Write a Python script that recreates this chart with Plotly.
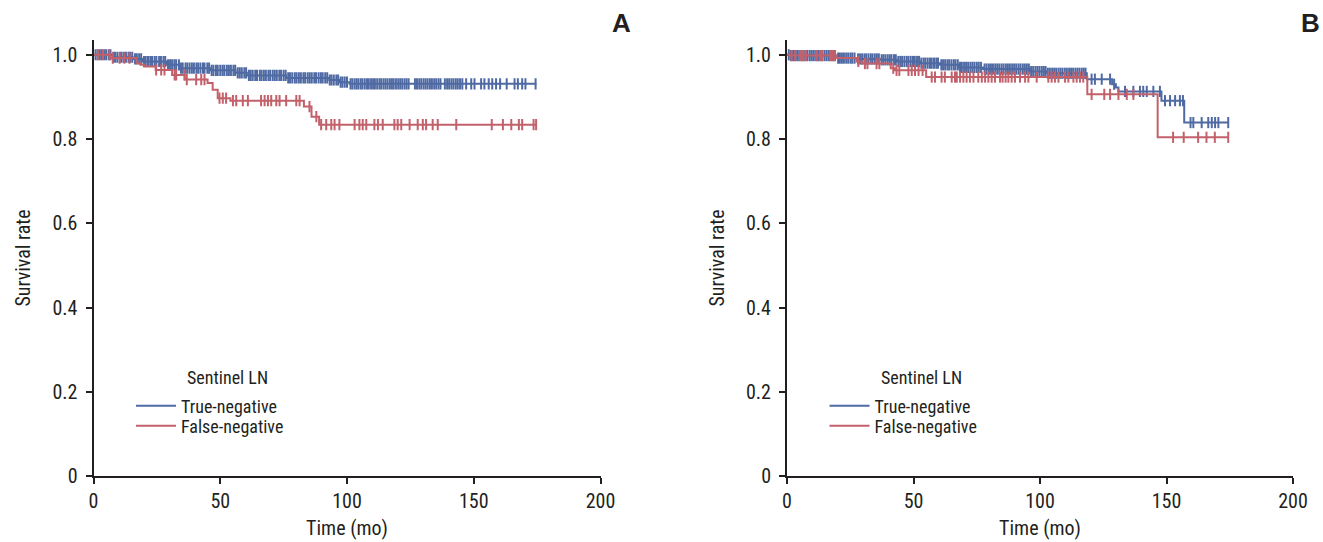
import numpy as np
import plotly.graph_objects as go

# ---------------- data ----------------
# Panel A: Kaplan-Meier steps (event time, survival after event)
a_tn_time = [0, 7.5, 15.5, 19.3, 29, 34, 46, 56, 60.5, 76, 93, 97, 101]
a_tn_surv = [1.0, 0.994, 0.99, 0.984, 0.976, 0.968, 0.963, 0.957, 0.951, 0.945, 0.94, 0.935, 0.931]
a_tn_end = 174.7
a_tn_cens = [0.8, 1.6, 2.5, 3.3, 4.3, 5.0, 6.0, 6.7, 7.8, 8.5, 9.4, 10.4, 11.1, 12.0, 12.8, 13.8, 14.5, 15.3,
             16.4, 17.1, 18.0, 18.8, 19.9, 20.6, 21.5, 22.4, 23.1, 24.1, 24.8, 25.9, 26.6, 27.6, 28.3, 29.4,
             30.2, 31.0, 31.9, 32.6, 33.7, 34.5, 35.2, 36.3, 37.0, 37.9, 38.8, 39.6, 40.6, 41.3, 42.2, 43.2,
             43.8, 44.9, 45.6, 46.6, 47.3, 48.3, 49.0, 50.0, 50.9, 51.6, 52.6, 53.4, 54.2, 55.2, 55.9, 56.9,
             57.7, 58.5, 59.5, 60.2, 61.3, 62.0, 62.8, 63.8, 64.5, 65.6, 66.3, 67.2, 68.0, 69.0, 69.7, 70.7,
             71.5, 72.3, 73.3, 74.0, 75.0, 75.8, 76.8, 77.5, 78.4, 79.4, 80.1, 81.0, 81.8, 82.8, 83.5, 84.5,
             85.3, 86.1, 87.1, 87.8, 88.8, 89.7, 90.4, 91.4, 92.2, 93.2, 93.9, 94.8, 95.8, 96.5, 97.5, 98.2,
             99.1, 100.0, 101.4, 102.1, 103.0, 103.8, 104.5, 105.4, 106.1, 107.0, 107.9, 108.6, 109.5,
             110.3, 111.0, 111.9, 112.8, 113.5, 114.4, 115.2, 116.0, 116.9, 117.7, 118.4, 119.3, 120.2,
             121.0, 121.8, 122.7, 123.5, 124.3, 126.8, 127.6, 128.5, 129.3, 130.2, 131.0, 131.8, 132.7,
             133.5, 134.4, 135.2, 136.1, 136.9, 138.6, 139.5, 140.3, 141.2, 142.0, 142.9, 143.7, 144.6,
             145.5, 147.0, 149.0, 150.3, 152.9, 154.2, 155.9, 157.3, 158.8, 160.4, 163.0, 166.1, 167.4,
             169.1, 170.4, 174.4]

a_fn_time = [0, 6.5, 17, 18.5, 20, 24.5, 31, 36, 45, 47, 49, 54, 83, 86, 89]
a_fn_surv = [1.0, 0.992, 0.98, 0.976, 0.972, 0.964, 0.952, 0.941, 0.933, 0.917, 0.897, 0.891, 0.877, 0.853, 0.834]
a_fn_end = 174.8
a_fn_cens = [1.7, 3.7, 6.3, 7.6, 10.3, 12.2, 14.2, 24.7, 26.7, 28.0, 32.0, 32.6, 35.9, 36.8, 40.5, 42.5,
             43.8, 49.7, 51.0, 52.3, 55.0, 56.3, 58.9, 60.9, 66.1, 67.5, 68.8, 70.1, 72.1, 73.4, 76.0,
             80.0, 81.3, 85.2, 87.9, 89.8, 91.8, 93.8, 95.1, 97.0, 103.0, 104.9, 106.2, 107.6, 110.8,
             112.2, 114.1, 118.7, 120.0, 121.4, 124.7, 127.9, 129.9, 131.2, 133.8, 135.8, 143.1, 157.1,
             161.5, 164.8, 167.8, 169.1, 173.6, 174.6]

# Panel B
b_tn_time = [0, 1, 19.6, 27.5, 36.8, 43.4, 52.6, 60.5, 68, 77.5, 96, 102.5, 118.5, 128.5, 130, 131, 148, 157]
b_tn_surv = [1.0, 0.998, 0.992, 0.99, 0.988, 0.984, 0.98, 0.976, 0.97, 0.966, 0.96, 0.956, 0.942, 0.93,
             0.922, 0.913, 0.891, 0.839]
b_tn_end = 174.5
b_tn_cens = [0.7, 1.5, 2.4, 3.1, 4.0, 4.8, 5.7, 6.5, 7.2, 8.1, 9.0, 9.8, 10.6, 11.5, 12.3, 13.0, 13.9, 14.8,
             15.6, 16.4, 17.3, 18.1, 18.8, 20.2, 20.9, 21.7, 22.5, 23.4, 24.2, 25.1, 25.8, 26.7, 28.1,
             28.9, 29.7, 30.6, 31.3, 32.2, 33.1, 33.8, 34.7, 35.5, 36.3, 37.4, 38.1, 38.9, 39.8, 40.6,
             41.3, 42.3, 43.0, 44.0, 44.8, 45.5, 46.4, 47.3, 48.0, 48.9, 49.8, 50.5, 51.4, 52.2, 53.1,
             54.0, 54.7, 55.6, 56.5, 57.2, 58.1, 59.0, 59.7, 61.0, 61.7, 62.5, 63.4, 64.1, 65.0, 65.9,
             66.6, 67.5, 68.4, 69.1, 70.0, 70.8, 71.6, 72.5, 73.3, 74.1, 75.0, 75.8, 76.7, 78.1, 78.9,
             79.8, 80.6, 81.4, 82.3, 83.1, 83.9, 84.8, 85.6, 86.5, 87.3, 88.1, 89.0, 89.8, 90.6, 91.5,
             92.3, 93.2, 94.0, 94.8, 95.6, 96.5, 97.3, 98.2, 99.0, 99.8, 100.7, 101.5, 102.2, 103.1,
             103.9, 104.8, 105.6, 106.4, 107.3, 108.1, 108.9, 109.8, 110.6, 111.5, 112.3, 113.1, 114.0,
             114.8, 115.6, 116.5, 117.3, 118.0, 120.4, 121.7, 124.4, 127.7, 129.3, 133.6, 136.9, 139.5,
             140.8, 142.2, 144.8, 147.4, 149.4, 151.4, 153.4, 155.3, 156.5, 159.5, 160.6, 163.9, 166.5,
             167.9, 169.2, 170.5, 174.4]

b_fn_time = [0, 1, 19.6, 27.5, 29.5, 41, 42.7, 55, 118.7, 146.5]
b_fn_surv = [1.0, 0.998, 0.992, 0.984, 0.979, 0.968, 0.963, 0.947, 0.906, 0.804]
b_fn_end = 174.5
b_fn_cens = [1.8, 3.2, 5.1, 5.8, 6.5, 7.5, 11.7, 13.0, 13.9, 17.0, 17.9, 19.0, 28.2, 30.8, 31.8, 35.4,
             36.5, 42.0, 43.3, 44.4, 48.0, 49.3, 50.6, 52.0, 53.6, 57.2, 58.5, 61.1, 62.4, 65.1, 66.4,
             67.1, 68.4, 69.7, 71.0, 72.3, 73.7, 75.6, 77.0, 78.3, 79.6, 80.9, 82.2, 84.2, 85.2, 86.4,
             87.5, 88.8, 90.1, 92.1, 94.1, 95.4, 98.7, 103.3, 104.6, 105.9, 107.3, 109.9, 111.2, 113.2,
             114.5, 115.8, 117.1, 120.4, 125.4, 127.7, 131.0, 134.3, 136.9, 152.6, 156.8, 162.5, 165.8,
             169.1, 174.4]

legend_title = "Sentinel LN"
group_names = ["True-negative", "False-negative"]
panel_letters = ["A", "B"]
x_ticks = [0, 50, 100, 150, 200]
y_ticks = [0, 0.2, 0.4, 0.6, 0.8, 1.0]
y_ticktext = ["0", "0.2", "0.4", "0.6", "0.8", "1.0"]

# ---------------- style ----------------
BLUE = "#4f6aa3"
RED = "#c2616b"
INK = "#231f20"
FONT = "Liberation Sans Narrow, Arial Narrow, Roboto Condensed, sans-serif"

W, H = 1323, 542
M_T, M_B = 40, 66
PLOT_TOP, PLOT_BOT = M_T, H - M_B
PH = PLOT_BOT - PLOT_TOP


def py(p):
    """pixel row -> paper y"""
    return (PLOT_BOT - p) / PH


def px(p):
    return p / W


def surv_at(times, surv, t):
    idx = np.searchsorted(np.array(times), np.array(t), side="right") - 1
    return np.array(surv)[idx]


fig = go.Figure()

panels = [
    ("x", "y", ["legend", "legend2"], [(a_tn_time, a_tn_surv, a_tn_end, a_tn_cens, BLUE),
                                       (a_fn_time, a_fn_surv, a_fn_end, a_fn_cens, RED)]),
    ("x2", "y2", ["legend3", "legend4"], [(b_tn_time, b_tn_surv, b_tn_end, b_tn_cens, BLUE),
                                          (b_fn_time, b_fn_surv, b_fn_end, b_fn_cens, RED)]),
]

for xa, ya, lgs, series in panels:
    for (times, surv, end, cens, col), name, lg in zip(series, group_names, lgs):
        fig.add_trace(go.Scatter(
            x=list(times) + [end], y=list(surv) + [surv[-1]],
            mode="lines", line=dict(color=col, width=2, shape="hv"),
            name=name, xaxis=xa, yaxis=ya, legend=lg, showlegend=True,
        ))
        fig.add_trace(go.Scatter(
            x=cens, y=surv_at(times, surv, cens),
            mode="markers",
            marker=dict(symbol="line-ns", size=8, color=col,
                        line=dict(color=col, width=2)),
            xaxis=xa, yaxis=ya, showlegend=False, hoverinfo="skip",
        ))

dom_a = [93.5 / W, 600.5 / W]
dom_b = [787 / W, 1293 / W]

axis_common = dict(
    showline=True, linewidth=2, linecolor=INK, ticks="outside", ticklen=6,
    tickwidth=2, tickcolor=INK, showgrid=False, zeroline=False, automargin=False,
    tickfont=dict(family=FONT, size=20, color=INK),
)
xaxis_common = dict(axis_common, range=[0, 200], tickvals=x_ticks,
                    title=dict(text="Time (mo)", font=dict(family=FONT, size=20, color=INK), standoff=9))
yaxis_common = dict(axis_common, range=[0, 1.035], tickvals=y_ticks, ticktext=y_ticktext,
                    ticklabelstandoff=4,
                    title=dict(text="Survival rate", font=dict(family=FONT, size=20, color=INK), standoff=16))

legend_common = dict(
    font=dict(family=FONT, size=18, color=INK), bgcolor="rgba(0,0,0,0)",
    xanchor="left", yanchor="middle", itemwidth=40, borderwidth=0,
)

LEG_X_A = 131
LEG_X_B = LEG_X_A + 693.5
fig.update_layout(
    width=W, height=H, autosize=False,
    margin=dict(l=0, r=0, t=M_T, b=M_B, pad=0, autoexpand=False),
    plot_bgcolor="white", paper_bgcolor="white",
    xaxis=dict(xaxis_common, domain=dom_a, anchor="y"),
    yaxis=dict(yaxis_common, anchor="x"),
    xaxis2=dict(xaxis_common, domain=dom_b, anchor="y2"),
    yaxis2=dict(yaxis_common, anchor="x2"),
    legend=dict(legend_common, x=px(LEG_X_A), y=py(406)),
    legend2=dict(legend_common, x=px(LEG_X_A), y=py(426)),
    legend3=dict(legend_common, x=px(LEG_X_B), y=py(406)),
    legend4=dict(legend_common, x=px(LEG_X_B), y=py(426)),
    showlegend=True,
)

annotations = []
for xpix in [185, 185 + 693.5]:
    annotations.append(dict(text=legend_title, x=px(xpix), y=py(377), xref="paper", yref="paper",
                            xanchor="left", yanchor="middle", showarrow=False,
                            font=dict(family=FONT, size=18, color=INK)))
for letter, xpix in zip(panel_letters, [621, 1310]):
    annotations.append(dict(text="<b>%s</b>" % letter, x=px(xpix), y=py(23), xref="paper", yref="paper",
                            xanchor="center", yanchor="middle", showarrow=False,
                            font=dict(family="Liberation Sans, Arial, sans-serif", size=26, color=INK)))
fig.update_layout(annotations=annotations)

post = (
    "document.documentElement.style.overflow='hidden';"
    "document.body.style.margin='0px';document.body.style.overflow='hidden';"
    "var gd=document.getElementById('{plot_id}');"
    "gd.style.width='1323px';gd.style.height='542px';"
    "Plotly.relayout(gd,{width:1323,height:542});"
)

fig.write_html(
    "out.html",
    config={"responsive": False, "displayModeBar": False},
    post_script=post,
)
